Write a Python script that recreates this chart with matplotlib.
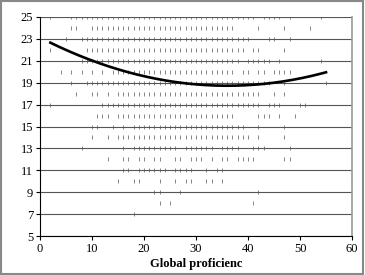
import numpy as np
import matplotlib
matplotlib.use("Agg")
import matplotlib.pyplot as plt
from matplotlib.patches import Rectangle

# Scatter data: x values (global proficiency) for each y score
rows = {
    25: [2] + list(range(6, 42)) + [43, 44, 45, 46, 48, 54],
    24: [6, 7] + list(range(10, 38)) + [42, 47, 52],
    23: [5] + list(range(8, 41)) + [44, 45, 48],
    22: [2] + list(range(9, 40)) + [41, 42, 47],
    21: list(range(8, 39)) + [40, 41, 42, 43, 44, 46, 54],
    20: [4, 6, 8, 10, 12, 14] + list(range(15, 38)) + [39, 40, 42, 43, 45, 46, 47, 48],
    19: [6] + list(range(9, 45)) + [47, 55],
    18: [7, 10, 11, 13] + list(range(15, 43)) + [45, 47],
    17: [2] + list(range(12, 43)) + [44, 45, 46, 50, 51],
    16: [11, 12, 13, 15] + list(range(16, 38)) + [42, 43, 44, 46, 49],
    15: [10, 11, 14, 16] + list(range(18, 40)) + [42, 47],
    14: [10, 13] + list(range(15, 41)) + [42, 47],
    13: [8, 16, 18, 19, 20, 21, 22, 23, 24, 25, 26, 28, 29, 30, 31, 32, 33,
         35, 36, 37, 38, 41, 42, 43, 48],
    12: [13, 16, 17, 19, 20, 22, 23, 26, 27, 29, 30, 31, 33, 35, 36, 38, 39,
         40, 41, 47, 48],
    11: [16, 17, 19, 20, 21, 22, 23, 24, 26, 27, 28, 29, 32, 34, 35],
    10: [15, 18, 19, 23, 26, 28, 29, 32, 33, 35],
    9: [22, 23, 27, 42],
    8: [23, 25, 41],
    7: [18],
}

# Polynomial trendline coefficients (order 2) and its x range
trend_coef = [0.0034, -0.2448, 23.13]
trend_range = [2, 55]

x_label = "Global proficienc"
x_ticks = [0, 10, 20, 30, 40, 50, 60]
y_ticks = [5, 7, 9, 11, 13, 15, 17, 19, 21, 23, 25]

plt.rcParams["font.family"] = ["Liberation Serif", "DejaVu Serif"]

fig = plt.figure(figsize=(3.65, 2.75), dpi=100)
ax = fig.add_axes([0.1096, 0.1418, 0.8548, 0.7964])

xs, ys = [], []
for yv, xv in rows.items():
    xs += xv
    ys += [yv] * len(xv)

ax.plot(xs, ys, linestyle="none", marker="|", markersize=2.2,
        markeredgewidth=0.5, color="#555555", zorder=3)

xt = np.linspace(trend_range[0], trend_range[1], 200)
ax.plot(xt, np.polyval(trend_coef, xt), color="black", lw=1.9, zorder=4)

ax.set_xlim(0, 60)
ax.set_ylim(5, 25)
ax.set_xticks(x_ticks)
ax.set_yticks(y_ticks)
ax.tick_params(direction="out", length=3, width=0.8, labelsize=9, pad=2)
ax.set_xlabel(x_label, fontsize=9, fontweight="bold", labelpad=2)

ax.grid(axis="y", color="#555555", lw=0.8)
ax.set_axisbelow(True)
ax.spines["top"].set_visible(False)
ax.spines["right"].set_color("#999999")
ax.spines["right"].set_linewidth(1.2)
ax.spines["left"].set_linewidth(0.8)
ax.spines["bottom"].set_linewidth(0.8)

fig.patches.append(Rectangle((0.004, 0.005), 0.99, 0.99, transform=fig.transFigure,
                             fill=False, edgecolor="#888888", lw=1.5))

fig.savefig("out.png", dpi=100)
